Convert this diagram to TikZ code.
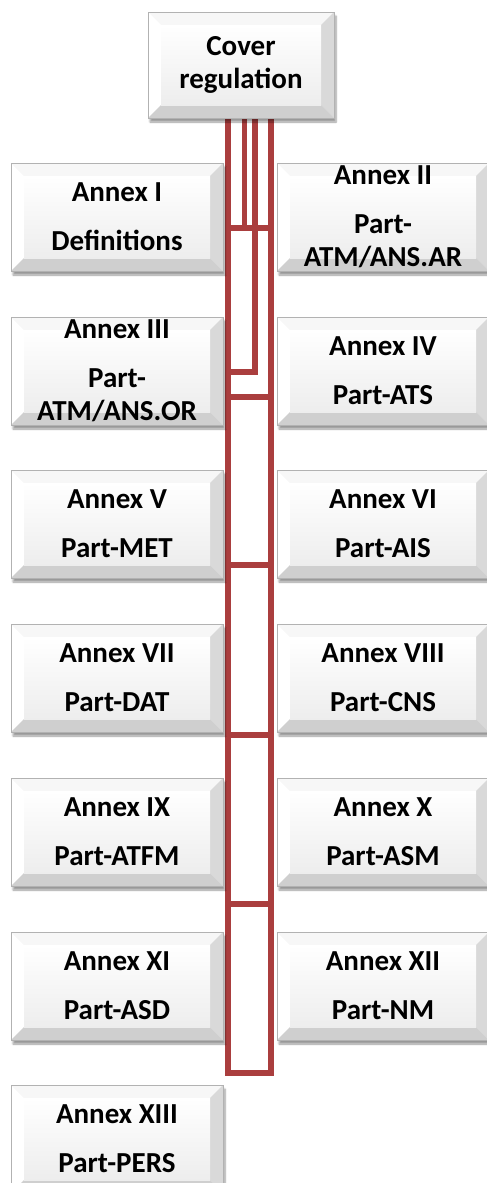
\documentclass[tikz,border=0pt]{standalone}
\usepackage{fontspec}
\setmainfont{Carlito}
\usetikzlibrary{shadows.blur,backgrounds}

\definecolor{linkred}{RGB}{170,62,62}
\tikzset{
    bevelbox/.style={rectangle, inner sep=0pt, align=center,
        minimum width=212pt, minimum height=108pt,
        draw=gray!60, line width=0.6pt, fill=gray!10,
        font=\bfseries\fontsize{29}{33}\selectfont,
        blur shadow={shadow xshift=2pt, shadow yshift=-4pt, shadow blur steps=6},
        path picture={
            \coordinate (o1) at (path picture bounding box.north west);
            \coordinate (o2) at (path picture bounding box.north east);
            \coordinate (o3) at (path picture bounding box.south east);
            \coordinate (o4) at (path picture bounding box.south west);
            \coordinate (i1) at ([shift={(13pt,-13pt)}]o1);
            \coordinate (i2) at ([shift={(-13pt,-13pt)}]o2);
            \coordinate (i3) at ([shift={(-13pt,13pt)}]o3);
            \coordinate (i4) at ([shift={(13pt,13pt)}]o4);
            \fill[gray!6] (o1) -- (o2) -- (i2) -- (i1) -- cycle;
            \fill[white] (o1) -- (i1) -- (i4) -- (o4) -- cycle;
            \fill[gray!30] (o2) -- (o3) -- (i3) -- (i2) -- cycle;
            \fill[gray!38] (o4) -- (i4) -- (i3) -- (o3) -- cycle;
            \shade[top color=white, bottom color=gray!14] (i1) rectangle (i3);
        }},
    link/.style={draw=linkred, line width=5.5pt, line join=miter},
}

\begin{document}
\begin{tikzpicture}[x=1pt, y=-1pt]
    \useasboundingbox (0,0) rectangle (487,1183);

    \node[bevelbox, minimum width=186pt, minimum height=106pt] (cover) at (241,65) {Cover\\regulation};

    \node[bevelbox] (a1) at (117,217) {Annex I\\[16pt]Definitions};
    \node[bevelbox] (a2) at (383,217) {Annex II\\[16pt]Part-\\ATM/ANS.AR};
    \node[bevelbox] (a3) at (117,371) {Annex III\\[16pt]Part-\\ATM/ANS.OR};
    \node[bevelbox] (a4) at (383,371) {Annex IV\\[16pt]Part-ATS};
    \node[bevelbox] (a5) at (117,524) {Annex V\\[16pt]Part-MET};
    \node[bevelbox] (a6) at (383,524) {Annex VI\\[16pt]Part-AIS};
    \node[bevelbox] (a7) at (117,678) {Annex VII\\[16pt]Part-DAT};
    \node[bevelbox] (a8) at (383,678) {Annex VIII\\[16pt]Part-CNS};
    \node[bevelbox] (a9) at (117,832) {Annex IX\\[16pt]Part-ATFM};
    \node[bevelbox] (a10) at (383,832) {Annex X\\[16pt]Part-ASM};
    \node[bevelbox] (a11) at (117,986) {Annex XI\\[16pt]Part-ASD};
    \node[bevelbox] (a12) at (383,986) {Annex XII\\[16pt]Part-NM};
    \node[bevelbox] (a13) at (117,1139) {Annex XIII\\[16pt]Part-PERS};

    % ladder under the cover regulation
    \coordinate (topL) at ([xshift=-13pt]cover.south);
    \coordinate (topA) at ([xshift=3.5pt]cover.south);
    \coordinate (topB) at ([xshift=14pt]cover.south);
    \coordinate (topR) at ([xshift=30pt]cover.south);
    \coordinate (r1) at (0,228);
    \coordinate (r2) at (0,372);
    \coordinate (r3) at (0,397);
    \coordinate (r4) at (0,565);
    \coordinate (r5) at (0,735);
    \coordinate (r6) at (0,904);
    \coordinate (r7) at (0,1073);

    \begin{scope}[on background layer]
        \draw[link] (topL) -- (topL |- r7) -- (topR |- r7) -- (topR);
        \draw[link] (topA) -- (topA |- r1);
        \draw[link] (topB) -- (topB |- r2) -- (topL |- r2);
        \draw[link] (topL |- r1) -- (topR |- r1);
        \draw[link] (topL |- r3) -- (topR |- r3);
        \draw[link] (topL |- r4) -- (topR |- r4);
        \draw[link] (topL |- r5) -- (topR |- r5);
        \draw[link] (topL |- r6) -- (topR |- r6);
    \end{scope}
\end{tikzpicture}
\end{document}
